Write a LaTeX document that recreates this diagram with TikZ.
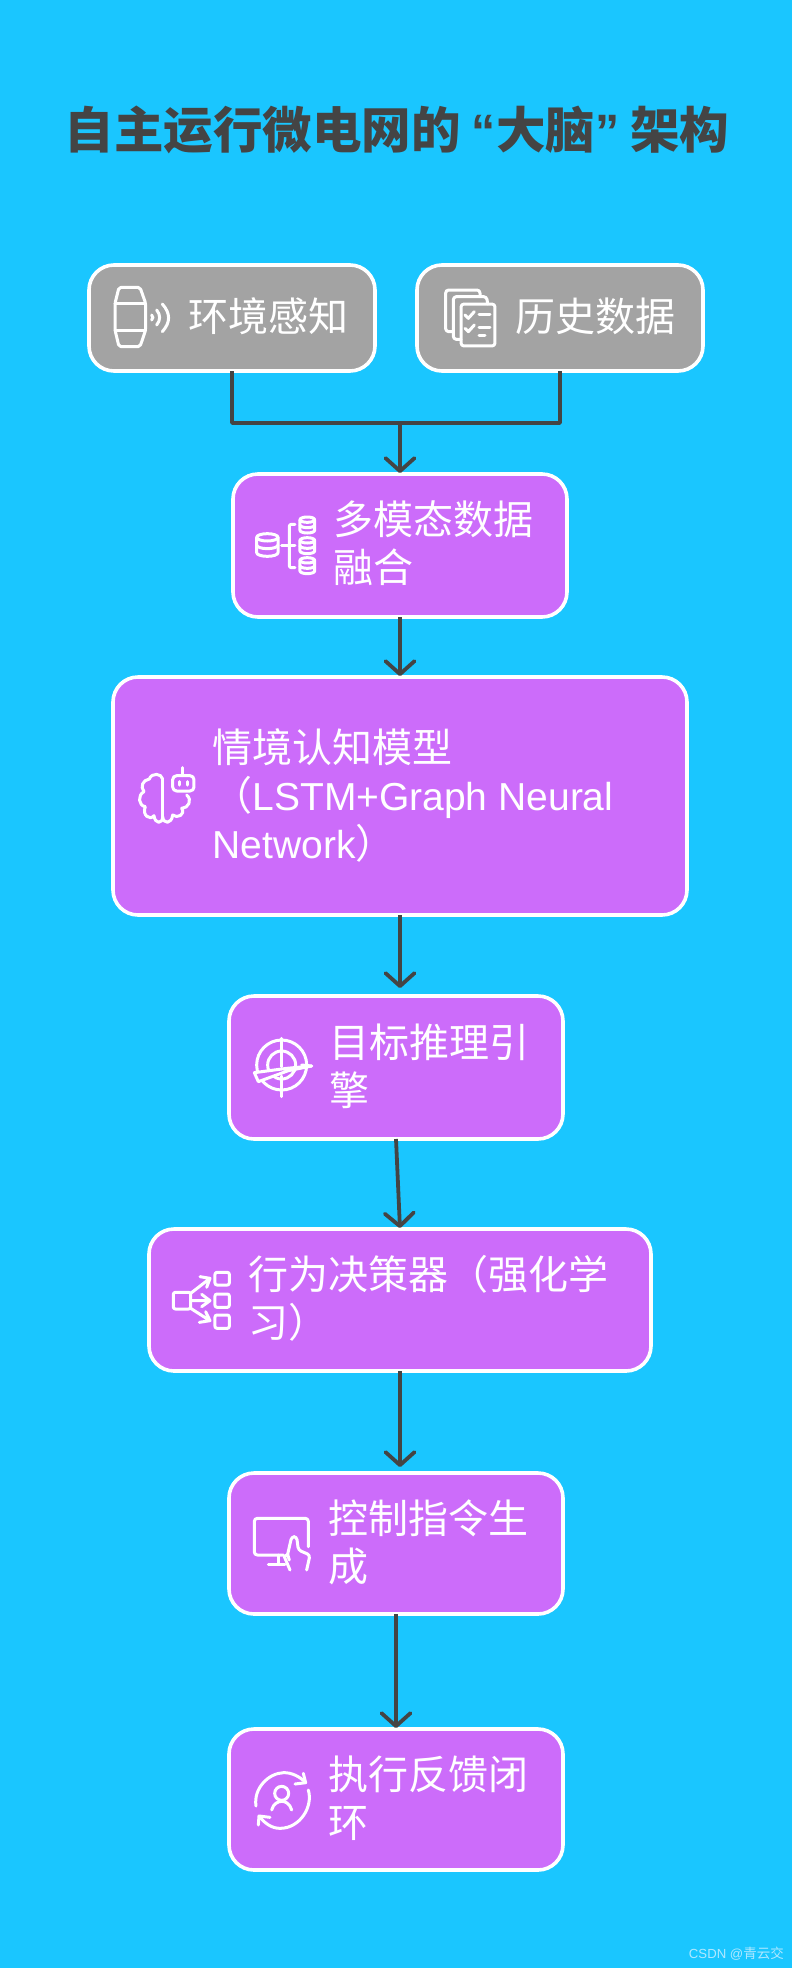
\documentclass[tikz,border=0pt]{standalone}
\usepackage{fontspec}
\setmainfont{Noto Sans CJK SC}
\newfontfamily\lat[Scale=0.975]{Liberation Sans}
\usetikzlibrary{arrows.meta}
\definecolor{bgc}{RGB}{26,198,255}
\definecolor{purp}{RGB}{204,108,250}
\definecolor{greyb}{RGB}{163,163,163}
\definecolor{inkc}{RGB}{68,68,68}
\definecolor{wmk}{RGB}{176,232,255}
\tikzset{
  boxbase/.style={draw=white,line width=3.6pt,rounded corners=25pt,outer sep=0pt,inner sep=0pt},
  pbox/.style={boxbase,fill=purp},
  gbox/.style={boxbase,fill=greyb},
  lbl/.style={anchor=west,inner sep=0pt,outer sep=0pt,text=white,align=left,font=\fontsize{40}{48}\selectfont},
  conn/.style={draw=inkc,line width=3.8pt},
  arr/.style={conn,-{Straight Barb[length=13pt,width=29pt,round]}},
  ic/.style={draw=white,line width=3pt,line cap=round,line join=round},
  zoomgrid/.style={shift={#1},x=0.3333pt,y=-0.3333pt},
}
\begin{document}
\begin{tikzpicture}[x=1pt,y=-1pt]
\useasboundingbox (0,0) rectangle (792,1968);
\fill[bgc] (0,0) rectangle (792,1968);
\node[inner sep=0pt,text=inkc] (title) at (397,130) {\fontsize{49.5}{58}\selectfont\bfseries 自主运行微电网的 {\lat “}大脑{\lat ”} 架构};
\node[gbox,minimum width=286pt,minimum height=106pt] (b1) at (232,318) {};
\node[gbox,minimum width=286pt,minimum height=106pt] (b2) at (560,318) {};
\node[pbox,minimum width=334pt,minimum height=143pt] (b3) at (400,545.5) {};
\node[pbox,minimum width=574pt,minimum height=238pt] (b4) at (400,796) {};
\node[pbox,minimum width=334pt,minimum height=143pt] (b5) at (396,1067.5) {};
\node[pbox,minimum width=502pt,minimum height=142pt] (b6) at (400,1300) {};
\node[pbox,minimum width=334pt,minimum height=141pt] (b7) at (396,1543.5) {};
\node[pbox,minimum width=334pt,minimum height=141pt] (b8) at (396,1799.5) {};
\node[lbl] (t1) at (188.5,316.5) {环境感知};
\node[lbl] (t2) at (515.5,316.5) {历史数据};
\node[lbl] (t3) at (333,543.5) {多模态数据\\融合};
\node[lbl] (t4) at (212.5,795.5) {情境认知模型\\（{\lat LSTM+Graph Neural}\\{\lat Network}）};
\node[lbl] (t5) at (329,1066) {目标推理引\\擎};
\node[lbl] (t6) at (248,1298.5) {行为决策器（强化学\\习）};
\node[lbl] (t7) at (328,1542.5) {控制指令生\\成};
\node[lbl] (t8) at (328,1798.5) {执行反馈闭\\环};
\node[anchor=east,inner sep=0pt,text=wmk] (wm) at (784,1954) {\fontsize{13.5}{15}\selectfont{\lat CSDN @}青云交};
% connectors
\coordinate (junc) at (400,423);
\draw[conn,line join=round] (b1.south) -- (b1.south |- junc) -- (b2.south |- junc) -- (b2.south);
\draw[arr,shorten >=1pt] (junc) -- (b3.north);
\draw[arr,shorten >=1pt] (b3.south) -- (b4.north);
\draw[arr,shorten >=8pt] (b4.south) -- (b4.south |- b5.north);
\draw[arr,shorten >=1pt] (b5.south) -- (b6.north);
\draw[arr,shorten >=6pt] (b6.south) -- (b6.south |- b7.north);
\draw[arr,shorten >=1pt] (b7.south) -- (b8.north);
% icon 1: watch
\begin{scope}[zoomgrid={(105,280)}]
\draw[ic,rounded corners=2pt] (42,22) -- (105,22) -- (122,70) -- (122,150) -- (105,200) -- (42,200) -- (30,150) -- (30,70) -- cycle;
\draw[ic] (30,70) -- (122,70) (30,150) -- (122,150);
\draw[ic] (140,105) .. controls (145,110) and (145,115) .. (140,120);
\draw[ic] (155,90) .. controls (167,105) and (167,120) .. (155,135);
\draw[ic] (172,72) .. controls (197,100) and (197,127) .. (172,155);
\end{scope}
% icon 2: documents
\begin{scope}[zoomgrid={(435,280)}]
\draw[ic,rounded corners=3pt] (78,72) rectangle (180,198);
\draw[ic,rounded corners=3pt] (78,178) -- (55,178) -- (55,50) -- (155,50) -- (158,72);
\draw[ic,rounded corners=3pt] (55,155) -- (32,155) -- (32,30) -- (135,30) -- (135,50);
\draw[ic] (90,105) -- (100,115) -- (118,95) (90,145) -- (100,155) -- (118,135);
\draw[ic] (132,103) -- (165,103) (132,142) -- (165,142) (132,165) -- (150,165);
\end{scope}
% icon 3: databases
\begin{scope}[zoomgrid={(250,505)}]
\draw[ic] (20,97) arc[start angle=180,end angle=-180,x radius=32,y radius=11];
\draw[ic] (20,97) -- (20,143) arc[start angle=180,end angle=0,x radius=32,y radius=11] -- (84,97);
\draw[ic] (20,120) arc[start angle=180,end angle=0,x radius=32,y radius=11];
\draw[ic] (95,122) -- (135,122);
\draw[ic,rounded corners=2pt] (135,58) -- (118,58) -- (118,188) -- (135,188);
\foreach \yy in {44,106,166}{
  \draw[ic] (150,\yy) arc[start angle=180,end angle=-180,x radius=22,y radius=8];
  \draw[ic] (150,\yy) -- (150,\yy+32) arc[start angle=180,end angle=0,x radius=22,y radius=8] -- (194,\yy);
  \draw[ic] (150,\yy+16) arc[start angle=180,end angle=0,x radius=22,y radius=8];
}
\end{scope}
% icon 4: brain and robot
\begin{scope}[zoomgrid={(130,755)}]
\draw[ic,rounded corners=4pt] (128,62) rectangle (192,108);
\draw[ic] (158,38) -- (158,62) (148,80) -- (148,90) (172,80) -- (172,90);
\draw[ic] (98,72) -- (98,185);
\draw[ic] (98,72) .. controls (95,55) and (65,52) .. (58,72)
  .. controls (38,75) and (30,95) .. (42,110)
  .. controls (22,120) and (25,152) .. (46,155)
  .. controls (35,180) and (60,198) .. (72,182)
  .. controls (75,208) and (98,208) .. (98,185)
  .. controls (100,208) and (125,208) .. (128,180)
  .. controls (142,192) and (168,178) .. (155,160)
  .. controls (175,160) and (188,135) .. (170,120);
\end{scope}
% icon 5: target
\begin{scope}[zoomgrid={(245,1030)}]
\draw[ic] (110,105) circle[radius=75];
\draw[ic] (110,105) circle[radius=42];
\draw[ic] (110,25) -- (110,110) (110,138) -- (110,200);
\draw[ic] (170,105) -- (200,108);
\draw[ic,fill=purp] (28,128) -- (125,115) -- (200,108) -- (130,122) -- (40,155) -- cycle;
\end{scope}
% icon 6: flow to squares
\begin{scope}[zoomgrid={(165,1260)}]
\draw[ic,rounded corners=2pt] (25,97) rectangle (77,147);
\draw[ic,rounded corners=2pt] (150,37) rectangle (193,75);
\draw[ic,rounded corners=2pt] (150,102) rectangle (193,142);
\draw[ic,rounded corners=2pt] (150,165) rectangle (193,205);
\draw[ic] (77,100) -- (135,55) (105,50) -- (135,55) -- (125,82);
\draw[ic] (80,122) -- (135,122) (110,103) -- (135,122) -- (110,140);
\draw[ic] (77,145) -- (135,182) (122,155) -- (135,182) -- (103,187);
\end{scope}
% icon 7: monitor and hand
\begin{scope}[zoomgrid={(245,1505)}]
\draw[ic,rounded corners=3pt] (115,150) -- (28,150) -- (28,40) -- (190,40) -- (190,125);
\draw[ic] (70,178) -- (120,178) (100,150) -- (100,178);
\draw[ic] (118,155) -- (135,195);
\draw[ic] (118,155) -- (128,148) -- (133,165);
\draw[ic,rounded corners=3pt] (128,148) -- (140,95) -- (155,95) -- (160,135) -- (195,150) -- (185,195);
\end{scope}
% icon 8: person in cycle
\begin{scope}[zoomgrid={(245,1760)}]
\draw[ic] (110,100) circle[radius=21];
\draw[ic] (80,150) .. controls (85,130) and (100,124) .. (110,124) .. controls (120,124) and (135,130) .. (140,150);
\draw[ic] (33,138) .. controls (25,85) and (70,40) .. (115,38) .. controls (140,37) and (165,50) .. (181,67);
\draw[ic] (175,40) -- (182,68) -- (150,72);
\draw[ic] (190,90) .. controls (205,140) and (165,205) .. (105,205) .. controls (80,205) and (60,190) .. (43,170);
\draw[ic] (40,195) -- (42,168) -- (75,172);
\end{scope}
\end{tikzpicture}
\end{document}
